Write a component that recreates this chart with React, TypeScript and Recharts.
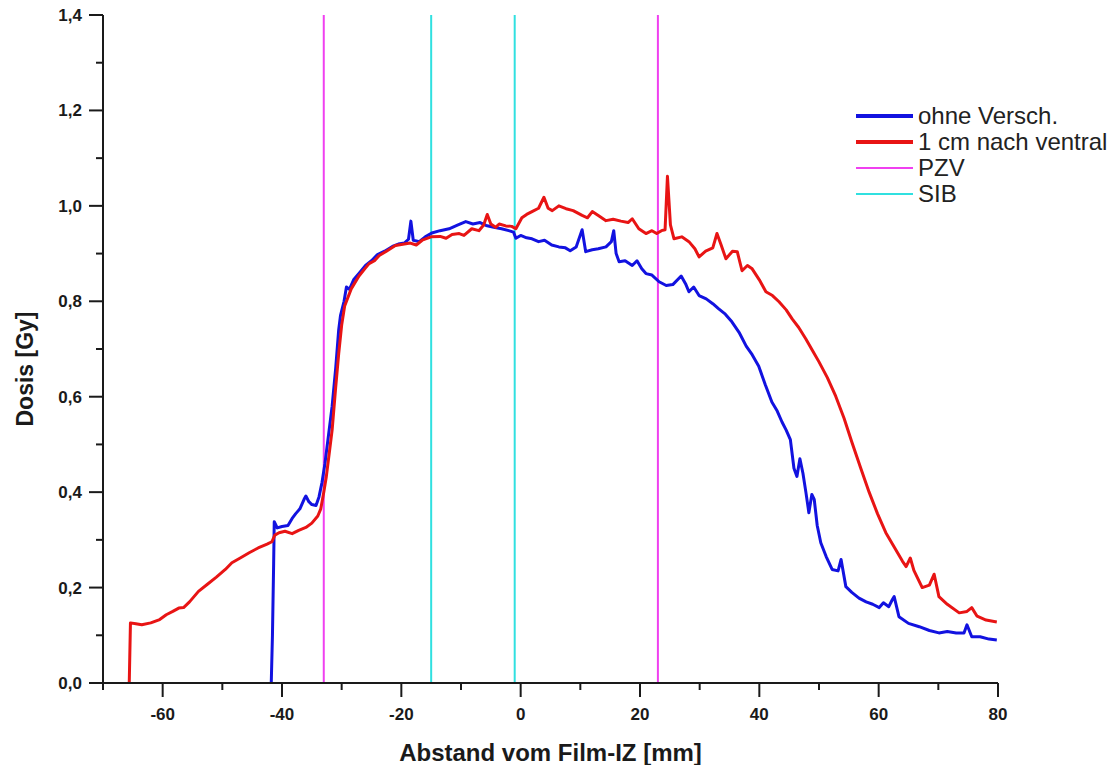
import React from 'react';
import { LineChart, Line, XAxis, YAxis, ReferenceLine, Legend } from 'recharts';

// ---- data ----
const blueX = [-41.8, -41.6, -41.4, -41.3, -40.8, -40, -39, -38.3, -37.7, -37, -36.3, -36, -35.5, -35, -34.3, -33.8, -33.3, -32.8, -32.2, -31.6, -31, -30.5, -30.2, -29.6, -29.2, -28.7, -28, -27, -26, -25, -24, -22.8, -21.5, -20.5, -19.5, -18.8, -18.4, -18, -17, -16, -14.9, -13.5, -12, -10.5, -9.2, -8, -6.8, -5.8, -4.5, -3.2, -2, -1.2, -0.8, 0, 1, 1.9, 3, 4, 5.2, 6.4, 7.5, 8.3, 9.3, 10.3, 10.9, 12, 13, 14.3, 15.2, 15.6, 16, 16.5, 17.5, 18.7, 19.5, 20.3, 21, 22, 23.2, 24.4, 25.5, 26.9, 27.7, 28.2, 29, 29.9, 31.1, 32.2, 33.2, 34.3, 35.4, 36.6, 37.8, 38.8, 39.9, 41, 42.1, 43, 43.8, 44.5, 45.2, 45.8, 46.3, 46.8, 47.3, 47.8, 48.3, 48.8, 49.2, 49.7, 50.3, 51.2, 52.2, 53.2, 53.7, 54.5, 55.5, 56.7, 57.9, 59, 60.1, 60.8, 61.7, 62.3, 62.6, 63.4, 65, 66.8, 68.5, 70.1, 71.5, 73, 74.3, 74.8, 75.6, 77, 78.5, 79.8];
const blueY = [0, 0.1, 0.25, 0.338, 0.325, 0.328, 0.33, 0.345, 0.355, 0.365, 0.385, 0.392, 0.38, 0.374, 0.372, 0.39, 0.42, 0.46, 0.52, 0.58, 0.66, 0.74, 0.77, 0.8, 0.83, 0.825, 0.845, 0.86, 0.875, 0.885, 0.898, 0.905, 0.915, 0.92, 0.922, 0.93, 0.968, 0.928, 0.925, 0.935, 0.943, 0.948, 0.952, 0.96, 0.967, 0.962, 0.965, 0.959, 0.955, 0.952, 0.948, 0.945, 0.932, 0.938, 0.933, 0.931, 0.925, 0.928, 0.918, 0.914, 0.912, 0.906, 0.914, 0.95, 0.904, 0.908, 0.91, 0.914, 0.925, 0.948, 0.9, 0.883, 0.885, 0.875, 0.885, 0.868, 0.858, 0.855, 0.841, 0.833, 0.835, 0.853, 0.835, 0.82, 0.83, 0.812, 0.805, 0.795, 0.784, 0.773, 0.757, 0.735, 0.706, 0.688, 0.664, 0.625, 0.589, 0.57, 0.547, 0.53, 0.51, 0.45, 0.433, 0.47, 0.44, 0.4, 0.357, 0.395, 0.385, 0.33, 0.294, 0.265, 0.238, 0.235, 0.259, 0.202, 0.19, 0.178, 0.17, 0.165, 0.158, 0.168, 0.16, 0.175, 0.181, 0.139, 0.125, 0.118, 0.11, 0.105, 0.108, 0.105, 0.105, 0.122, 0.097, 0.097, 0.092, 0.09];

const redX = [-65.6, -65.4, -64.5, -63.5, -62, -60.5, -59.4, -58.3, -57.3, -56.5, -55.5, -54, -52.5, -51, -49.5, -48.4, -47, -45.5, -44, -42.5, -41.7, -41.2, -40.5, -39.5, -38.3, -37.2, -36, -35, -34, -33.5, -33, -32.6, -32, -31.6, -31, -30.5, -30, -29.5, -28.4, -27.1, -26, -25.4, -24.5, -23.7, -22.5, -21, -19.5, -18.5, -17.5, -16.5, -15, -13.5, -12.5, -11.5, -10.3, -9.5, -8.2, -7, -6.2, -5.6, -5, -4.2, -3.6, -2.5, -1.5, -0.8, 0.2, 1, 1.9, 3, 3.9, 4.6, 5.3, 6.4, 7.6, 8.8, 10.3, 11.2, 12, 13.2, 14.3, 15.5, 16.8, 18, 18.7, 19.8, 21, 22, 22.8, 23.6, 24.2, 24.6, 25.1, 25.7, 27, 28.2, 29.2, 29.9, 31, 32.2, 32.9, 33.6, 34.4, 35.5, 36.3, 37.1, 38, 38.8, 40, 41.1, 42.2, 43.3, 44.5, 45.5, 46.6, 47.8, 49, 50, 51.4, 52.8, 54.2, 55.5, 57, 58.4, 59.8, 61.2, 62.6, 64, 64.6, 65.3, 65.9, 67.3, 68.5, 69.3, 70.1, 71.5, 73.5, 74.8, 75.6, 76.5, 78, 79.8];
const redY = [0, 0.126, 0.124, 0.122, 0.126, 0.133, 0.143, 0.15, 0.157, 0.158, 0.17, 0.192, 0.207, 0.222, 0.238, 0.252, 0.262, 0.273, 0.283, 0.291, 0.296, 0.31, 0.315, 0.318, 0.313, 0.32, 0.326, 0.335, 0.35, 0.365, 0.4, 0.43, 0.49, 0.53, 0.62, 0.69, 0.75, 0.79, 0.826, 0.853, 0.87, 0.879, 0.885, 0.896, 0.905, 0.917, 0.92, 0.922, 0.918, 0.928, 0.935, 0.936, 0.932, 0.94, 0.942, 0.938, 0.952, 0.948, 0.96, 0.982, 0.962, 0.955, 0.962, 0.958, 0.957, 0.952, 0.975, 0.982, 0.988, 0.995, 1.018, 0.995, 0.99, 1.0, 0.994, 0.99, 0.98, 0.975, 0.988, 0.978, 0.969, 0.972, 0.968, 0.965, 0.973, 0.952, 0.942, 0.948, 0.942, 0.948, 0.95, 1.062, 0.96, 0.931, 0.935, 0.925, 0.91, 0.893, 0.905, 0.912, 0.942, 0.918, 0.889, 0.905, 0.904, 0.864, 0.875, 0.868, 0.845, 0.82, 0.812, 0.799, 0.782, 0.763, 0.745, 0.721, 0.695, 0.673, 0.64, 0.601, 0.555, 0.505, 0.45, 0.4, 0.355, 0.315, 0.285, 0.255, 0.244, 0.262, 0.236, 0.2, 0.205, 0.228, 0.181, 0.165, 0.147, 0.15, 0.158, 0.14, 0.132, 0.128];

const pzvX = [-33, 23];
const sibX = [-15, -1];

const xTicks = [-70, -60, -50, -40, -30, -20, -10, 0, 10, 20, 30, 40, 50, 60, 70, 80];
const yTicks = [0, 0.1, 0.2, 0.3, 0.4, 0.5, 0.6, 0.7, 0.8, 0.9, 1.0, 1.1, 1.2, 1.3, 1.4];

const legendLabels = ['ohne Versch.', '1 cm nach ventral', 'PZV', 'SIB'];
const legendColors = ['#1212e0', '#e81414', '#f040f0', '#30e0e0'];
const legendWidths = [4, 4, 2, 2];

const xTitle = 'Abstand vom Film-IZ [mm]';
const yTitle = 'Dosis [Gy]';

const blueData = blueX.map((x, i) => ({ x, y: blueY[i] }));
const redData = redX.map((x, i) => ({ x, y: redY[i] }));

const FONT = '"Liberation Sans", Arial, Helvetica, sans-serif';
const AXIS = '#1a1a1a';

const XTick = (props: any) => {
  const { x, y, payload } = props;
  const v = payload.value;
  const major = Math.abs(Math.round(v)) % 20 === 0;
  return (
    <g>
      <line x1={x} x2={x} y1={y} y2={y + (major ? 14 : 7)} stroke={AXIS} strokeWidth={2} />
      {major && (
        <text x={x} y={y + 37} textAnchor="middle" fontFamily={FONT} fontWeight="bold" fontSize={17} fill="#1a1a1a">
          {String(v)}
        </text>
      )}
    </g>
  );
};

const YTick = (props: any) => {
  const { x, y, payload } = props;
  const v = payload.value;
  const major = Math.round(v * 10) % 2 === 0;
  return (
    <g>
      <line x1={x} x2={x - (major ? 14 : 7)} y1={y} y2={y} stroke={AXIS} strokeWidth={2} />
      {major && (
        <text x={x - 21} y={y} dy="0.35em" textAnchor="end" fontFamily={FONT} fontWeight="bold" fontSize={17} fill="#1a1a1a">
          {v.toFixed(1).replace('.', ',')}
        </text>
      )}
    </g>
  );
};

const renderLegend = () => (
  <div style={{ fontFamily: FONT, fontSize: 24, color: '#222' }}>
    {legendLabels.map((l, i) => (
      <div key={l} style={{ display: 'flex', alignItems: 'center', height: 26, lineHeight: '26px', whiteSpace: 'nowrap' }}>
        <svg width={62} height={26} style={{ display: 'block' }}>
          <line x1={0} x2={57} y1={13} y2={13} stroke={legendColors[i]} strokeWidth={legendWidths[i]} />
        </svg>
        <span>{l}</span>
      </div>
    ))}
  </div>
);

export default function App() {
  return (
    <div style={{ width: 1110, height: 757, position: 'relative' }}>
      <LineChart width={1110} height={757} margin={{ top: 7, right: 120, bottom: 0, left: 0 }}>
        <XAxis
          type="number"
          dataKey="x"
          domain={[-70, 80]}
          ticks={xTicks}
          allowDataOverflow
          interval={0}
          tickLine={false}
          tickSize={0}
          tickMargin={0}
          tick={<XTick />}
          height={82}
          axisLine={{ stroke: AXIS, strokeWidth: 2 }}
          label={{ value: xTitle, position: 'insideBottom', offset: 4, fontFamily: FONT, fontWeight: 'bold', fontSize: 24, fill: '#1a1a1a' }}
        />
        <YAxis
          type="number"
          domain={[0, 1.4]}
          ticks={yTicks}
          allowDataOverflow
          interval={0}
          tickLine={false}
          tickSize={0}
          tickMargin={0}
          tick={<YTick />}
          width={95}
          axisLine={{ stroke: AXIS, strokeWidth: 2 }}
          label={{
            content: () => (
              <text x={25} y={361} transform="rotate(-90 25 361)" textAnchor="middle" fontFamily={FONT} fontWeight="bold" fontSize={23} fill="#1a1a1a">
                {yTitle}
              </text>
            ),
          }}
        />
        {pzvX.map((v) => (
          <ReferenceLine key={'p' + v} x={v} stroke={legendColors[2]} strokeWidth={2} />
        ))}
        {sibX.map((v) => (
          <ReferenceLine key={'s' + v} x={v} stroke={legendColors[3]} strokeWidth={2} />
        ))}
        <Line data={blueData} dataKey="y" type="linear" stroke={legendColors[0]} strokeWidth={3} dot={false} isAnimationActive={false} strokeLinejoin="round" />
        <Line data={redData} dataKey="y" type="linear" stroke={legendColors[1]} strokeWidth={3} dot={false} isAnimationActive={false} strokeLinejoin="round" />
        <Legend
          layout="horizontal"
          align="center"
          verticalAlign="middle"
          content={renderLegend}
          wrapperStyle={{ position: 'absolute', left: 848, top: 95, width: 262, height: 104 }}
        />
      </LineChart>
    </div>
  );
}
